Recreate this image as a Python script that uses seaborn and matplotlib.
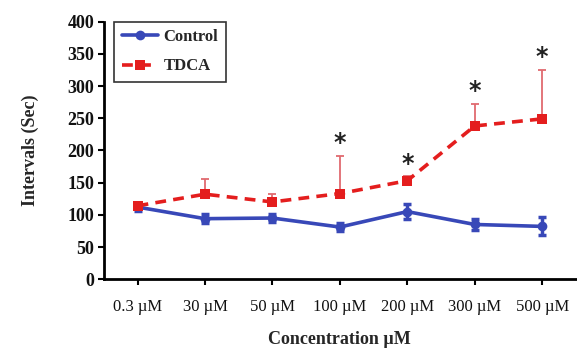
import numpy as np
import pandas as pd
import matplotlib
matplotlib.use("Agg")
import matplotlib.pyplot as plt
import seaborn as sns

concentrations = ["0.3 \u00b5M", "30 \u00b5M", "50 \u00b5M", "100 \u00b5M", "200 \u00b5M", "300 \u00b5M", "500 \u00b5M"]
control = [112, 94, 95, 81, 105, 85, 82]
control_err = [6, 7, 6, 6, 12, 8, 14]
tdca = [114, 132, 120, 133, 153, 238, 249]
tdca_err = [2, 24, 12, 59, 7, 34, 76]
significant = [False, False, False, True, True, True, True]

sns.set_style("white")
plt.rcParams['font.family'] = ['Liberation Serif', 'DejaVu Serif']

df = pd.DataFrame({
    "Concentration": concentrations * 2,
    "Interval": control + tdca,
    "Group": ["Control"] * len(control) + ["TDCA"] * len(tdca),
})

fig = plt.figure(figsize=(5.77, 3.49), dpi=100)
ax = fig.add_axes([0.180, 0.200, 0.818, 0.738])

pal = {"Control": "#3848b8", "TDCA": "#e41e1e"}
x = np.arange(len(concentrations))

# error bars first, so the lines sit on top
ax.errorbar(x, control, yerr=control_err, fmt="none", ecolor=pal["Control"],
            elinewidth=2.5, capsize=3, capthick=2.5, zorder=1)
ax.errorbar(x, tdca, yerr=[np.zeros(len(tdca)), tdca_err], fmt="none",
            ecolor="#e06a70", elinewidth=1.3, capsize=3, capthick=1.3, zorder=1)

sns.lineplot(data=df, x="Concentration", y="Interval", hue="Group", style="Group",
             palette=pal, markers={"Control": "o", "TDCA": "s"},
             dashes={"Control": "", "TDCA": (3, 2)}, linewidth=2.6,
             markersize=7, markeredgewidth=0, ax=ax, zorder=3)

for i, sig in enumerate(significant):
    if sig:
        ax.text(x[i], tdca[i] + tdca_err[i] + 1, "*", ha="center", va="bottom",
                fontsize=17, fontweight="bold", color="#222222", family=["DejaVu Sans"])

ax.set_xlim(-0.5, len(concentrations) - 0.5)
ax.set_ylim(0, 400)
ax.set_yticks(range(0, 401, 50))
ax.set_xticks(x)
ax.set_xticklabels(concentrations)

for s in ["top", "right"]:
    ax.spines[s].set_visible(False)
for s in ["left", "bottom"]:
    ax.spines[s].set_color("black")
    ax.spines[s].set_linewidth(2)

ax.tick_params(axis="both", direction="out", length=4, width=1.5, color="black",
               labelcolor="#111111")
ax.tick_params(axis="x", pad=10, labelsize=12)
ax.tick_params(axis="y", left=True, pad=3, labelsize=13)
ax.tick_params(axis="x", bottom=True)
for lab in ax.get_yticklabels():
    lab.set_fontweight("bold")

ax.set_xlabel("Concentration \u00b5M", fontsize=13, fontweight="bold", labelpad=12)
ax.set_ylabel("Intervals (Sec)", fontsize=13, fontweight="bold", labelpad=20)

leg = ax.legend(loc="upper left", bbox_to_anchor=(0.022, 1.0), borderaxespad=0,
                frameon=True, fancybox=False, edgecolor="black",
                prop={"size": 12, "weight": "bold"},
                handlelength=2.2, handletextpad=0.3, borderpad=0.45,
                labelspacing=0.8)
leg.get_frame().set_linewidth(1.2)
leg.set_title(None)

fig.savefig("out.png", dpi=100)
